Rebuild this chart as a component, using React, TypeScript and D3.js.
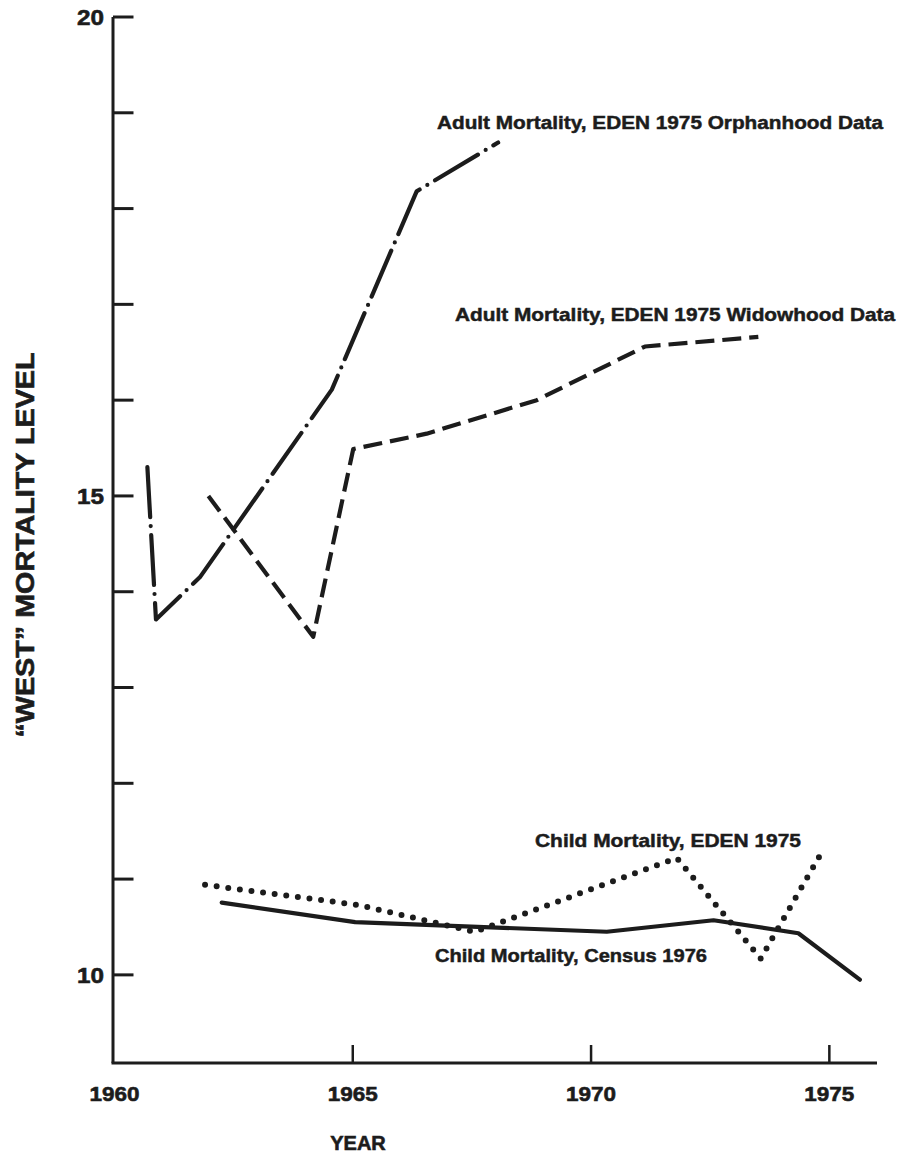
import React from 'react';
import * as d3 from 'd3';

// Orphanhood-based adult mortality (dash-dot)
const orphanYears = [1960.69, 1960.87, 1961.79, 1964.56, 1966.34, 1968.05];
const orphanLevels = [15.3, 13.71, 14.15, 16.11, 18.18, 18.69];

// Widowhood-based adult mortality (dashed)
const widowYears = [1961.97, 1964.17, 1965.01, 1966.55, 1968.86, 1971.13, 1973.51];
const widowLevels = [15.0, 13.53, 15.49, 15.65, 16.0, 16.56, 16.66];

// Child mortality, EDEN 1975 (dotted)
const edenChildYears = [1961.9, 1965.11, 1967.56, 1971.8, 1973.56, 1974.84];
const edenChildLevels = [10.94, 10.73, 10.45, 11.22, 10.17, 11.28];

// Child mortality, Census 1976 (solid)
const censusYears = [1962.25, 1965.05, 1970.33, 1972.57, 1974.35, 1975.64];
const censusLevels = [10.755, 10.55, 10.45, 10.57, 10.435, 9.95];

const xTicks = [1960, 1965, 1970, 1975];
const yTicks = [10, 11, 12, 13, 14, 15, 16, 17, 18, 19, 20];
const yTickLabels = [10, 15, 20];

const W = 899, H = 1165;
const INK = '#1c1c1c';
const FONT = '"Liberation Sans", Arial, Helvetica, sans-serif';

const x = d3.scaleLinear().domain([1960, 1976]).range([114.5, 877]);
const y = d3.scaleLinear().domain([9.08, 20]).range([1063, 17]);

const zip = (xs: number[], ys: number[]) => xs.map((v, i) => [v, ys[i]] as [number, number]);
const line = d3.line<[number, number]>().x(d => x(d[0])).y(d => y(d[1]));

const series = [
  { pts: zip(orphanYears, orphanLevels), dash: '50 9 0 9', cap: 'round', width: 4.2 },
  { pts: zip(widowYears, widowLevels), dash: '19 8', cap: 'butt', width: 4.2 },
  { pts: zip(edenChildYears, edenChildLevels), dash: '0 11.7', cap: 'round', width: 6 },
  { pts: zip(censusYears, censusLevels), dash: null, cap: 'round', width: 4.2 },
];

const notes = [
  { text: 'Adult Mortality, EDEN 1975 Orphanhood Data', x: 437, y: 129, len: 446 },
  { text: 'Adult Mortality, EDEN 1975 Widowhood Data', x: 455, y: 321, len: 440 },
  { text: 'Child Mortality, EDEN 1975', x: 535, y: 847, len: 266 },
  { text: 'Child Mortality, Census 1976', x: 435, y: 962, len: 272 },
];

export default function App() {
  const [x0, x1] = x.range();
  const [yb, yt] = y.range();
  return (
    <svg width={W} height={H} viewBox={`0 0 ${W} ${H}`}
      style={{ position: 'absolute', left: 0, top: 0, background: '#fff' }}
      fontFamily={FONT} fontWeight="bold" fill={INK}>
      {/* axes */}
      <line x1={x0 - 1.5} x2={x0 - 1.5} y1={yt} y2={yb} stroke={INK} strokeWidth={3} />
      <line x1={x0 - 3} x2={x1} y1={yb} y2={yb} stroke={INK} strokeWidth={3} />
      {yTicks.map(t => (
        <line key={t} x1={x0 - 1.5} x2={x0 + 19} y1={y(t)} y2={y(t)} stroke={INK} strokeWidth={3} />
      ))}
      {xTicks.slice(1).map(t => (
        <line key={t} x1={x(t)} x2={x(t)} y1={yb} y2={yb - 18} stroke={INK} strokeWidth={2.5} />
      ))}
      <g stroke={INK} strokeWidth={0.6}>
        {yTickLabels.map(t => (
          <text key={t} x={104} y={y(t) + 8} textAnchor="end" fontSize={22}
            textLength={27} lengthAdjust="spacingAndGlyphs">{t}</text>
        ))}
        {xTicks.map(t => (
          <text key={t} x={x(t)} y={1101} textAnchor="middle" fontSize={21}
            textLength={50} lengthAdjust="spacingAndGlyphs">{t}</text>
        ))}
        <text x={358} y={1150} textAnchor="middle" fontSize={20}>YEAR</text>
        <text transform="translate(34,545) rotate(-90)" textAnchor="middle" fontSize={25}
          textLength={385} lengthAdjust="spacingAndGlyphs">“WEST” MORTALITY LEVEL</text>
      </g>

      {/* series */}
      {series.map((s, i) => (
        <path key={i} d={line(s.pts) || ''} fill="none" stroke={INK} strokeWidth={s.width}
          strokeDasharray={s.dash || undefined} strokeLinecap={s.cap as any} strokeLinejoin="round" />
      ))}

      {/* annotations */}
      <g stroke={INK} strokeWidth={0.5}>
        {notes.map(n => (
          <text key={n.text} x={n.x} y={n.y} fontSize={19} textLength={n.len}
            lengthAdjust="spacingAndGlyphs">{n.text}</text>
        ))}
      </g>
    </svg>
  );
}
